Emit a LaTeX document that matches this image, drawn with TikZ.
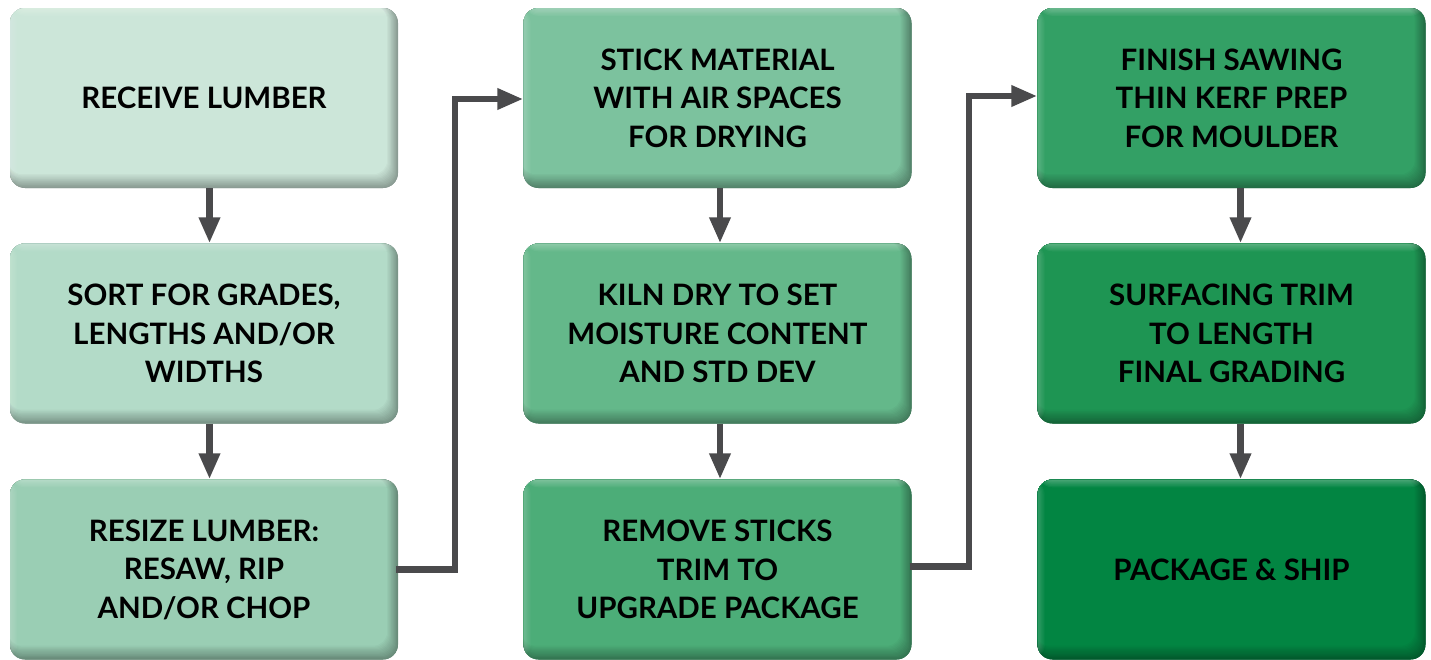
\documentclass[tikz,border=0pt]{standalone}
\usepackage{fontspec}
\newfontfamily\lato{Lato}
\usetikzlibrary{arrows.meta}
\definecolor{cA}{HTML}{CCE6D9}
\definecolor{cB}{HTML}{B3DBC8}
\definecolor{cC}{HTML}{9ACEB4}
\definecolor{cD}{HTML}{7CC29E}
\definecolor{cE}{HTML}{64B88A}
\definecolor{cF}{HTML}{4CAD78}
\definecolor{cG}{HTML}{33A065}
\definecolor{cH}{HTML}{1E9553}
\definecolor{cI}{HTML}{028542}
\definecolor{arrowgray}{HTML}{4A4A4C}
\tikzset{
  stepbox/.style={rounded corners=15pt, minimum width=388pt, minimum height=180pt,
    inner sep=0pt, align=center, text=black,
    font=\lato\bfseries\fontsize{29.5}{38.5}\selectfont,
    fill=#1!68!black,
    path picture={
      \foreach \i in {0,...,12}{
        \pgfmathtruncatemacro{\pct}{68+\i*32/12}
        \fill[#1!\pct!black, rounded corners=14pt]
          ([xshift=-2pt, yshift=\i*1.15pt]path picture bounding box.south west)
          rectangle
          ([xshift=-\i*0.9pt, yshift=2pt]path picture bounding box.north east);
      }
      \foreach \j in {1,...,6}{
        \fill[white, opacity=0.05]
          ([yshift=-\j*1.3pt]path picture bounding box.north west) rectangle (path picture bounding box.north east);
        \fill[white, opacity=0.035]
          (path picture bounding box.north west) rectangle ([xshift=\j*1.2pt]path picture bounding box.south west);
      }
    }},
  flow/.style={draw=arrowgray, line width=6.5pt, -{Triangle[length=26pt, width=20pt]}},
  link/.style={draw=arrowgray, line width=6.5pt, line join=miter, -{Triangle[length=26pt, width=20pt]}}
}
\begin{document}
\begin{tikzpicture}[x=1pt, y=-1pt]
\useasboundingbox (0,0) rectangle (1431,659);
\node[stepbox=cA] (b1) at (204,98) {RECEIVE LUMBER};
\node[stepbox=cB] (b2) at (204,333.5) {SORT FOR GRADES,\\LENGTHS AND/OR\\WIDTHS};
\node[stepbox=cC] (b3) at (204,569.5) {RESIZE LUMBER:\\RESAW, RIP\\AND/OR CHOP};
\node[stepbox=cD] (b4) at (717.5,98) {STICK MATERIAL\\WITH AIR SPACES\\FOR DRYING};
\node[stepbox=cE] (b5) at (717.5,333.5) {KILN DRY TO SET\\MOISTURE CONTENT\\AND STD DEV};
\node[stepbox=cF] (b6) at (717.5,569.5) {REMOVE STICKS\\TRIM TO\\UPGRADE PACKAGE};
\node[stepbox=cG] (b7) at (1231.5,98) {FINISH SAWING\\THIN KERF PREP\\FOR MOULDER};
\node[stepbox=cH] (b8) at (1231.5,333.5) {SURFACING TRIM\\TO LENGTH\\FINAL GRADING};
\node[stepbox=cI] (b9) at (1231.5,569.5) {PACKAGE \& SHIP};
\draw[flow] ([xshift=5.5pt]b1.south) -- ([xshift=5.5pt]b2.north);
\draw[flow] ([xshift=5.5pt]b2.south) -- ([xshift=5.5pt]b3.north);
\draw[flow] ([xshift=2.5pt]b4.south) -- ([xshift=2.5pt]b5.north);
\draw[flow] ([xshift=2.5pt]b5.south) -- ([xshift=2.5pt]b6.north);
\draw[flow] ([xshift=9pt]b7.south) -- ([xshift=9pt]b8.north);
\draw[flow] ([xshift=9pt]b8.south) -- ([xshift=9pt]b9.north);
\draw[link] ([xshift=-2pt]b3.east) -- ([xshift=57pt]b3.east) |- ([yshift=-1pt]b4.west);
\draw[link] ([xshift=-2pt, yshift=3pt]b6.east) -- ([xshift=57.5pt, yshift=3pt]b6.east) |- ([yshift=2pt]b7.west);
\end{tikzpicture}
\end{document}
